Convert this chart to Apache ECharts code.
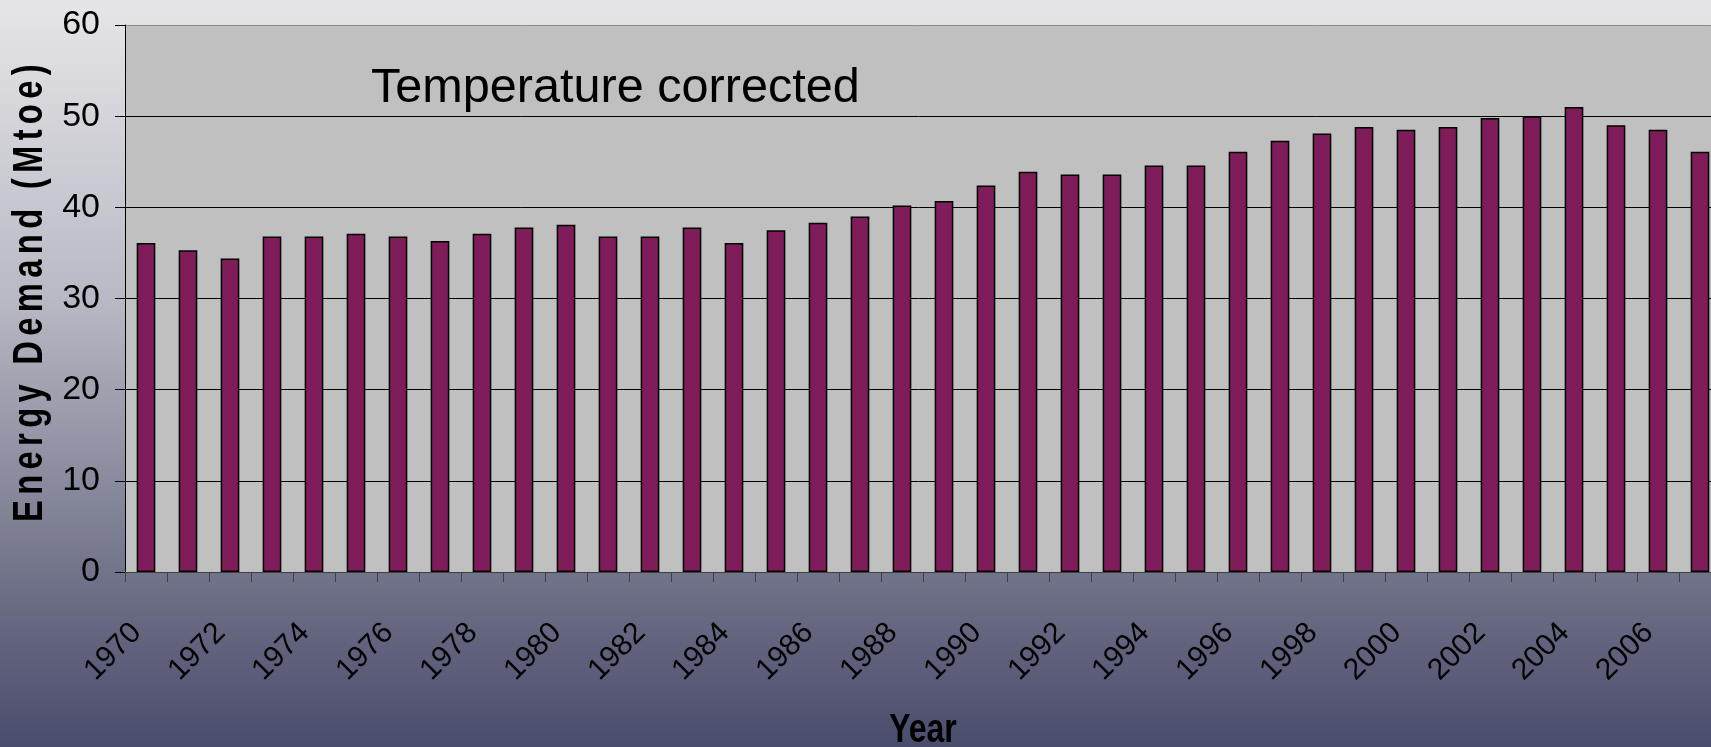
<!DOCTYPE html>
<html>
<head>
<meta charset="utf-8">
<style>
  html, body { margin: 0; padding: 0; width: 1711px; height: 747px; overflow: hidden; }
  #chart { width: 1711px; height: 747px; }
</style>
<script src="https://cdn.jsdelivr.net/npm/echarts@6/dist/echarts.min.js"></script>
</head>
<body>
<div id="chart"></div>
<script>
const years = ['1970','1971','1972','1973','1974','1975','1976','1977','1978','1979',
  '1980','1981','1982','1983','1984','1985','1986','1987','1988','1989',
  '1990','1991','1992','1993','1994','1995','1996','1997','1998','1999',
  '2000','2001','2002','2003','2004','2005','2006','2007'];
const demand = [36.1, 35.3, 34.4, 36.8, 36.8, 37.1, 36.8, 36.3, 37.1, 37.8,
  38.1, 36.8, 36.8, 37.8, 36.1, 37.5, 38.3, 39.0, 40.2, 40.7,
  42.4, 43.9, 43.6, 43.6, 44.6, 44.6, 46.1, 47.3, 48.1, 48.8,
  48.5, 48.8, 49.8, 50.0, 51.0, 49.0, 48.5, 46.1];
const yTicks = [0, 10, 20, 30, 40, 50, 60];
const yName = 'Energy Demand (Mtoe)';
const xName = 'Year';
const note = 'Temperature corrected';

// condensed bold look for the axis titles (no narrow font installed)
const SPECIAL = {};
SPECIAL[yName] = { sx: 0.78, ls: '6.8px' };
SPECIAL[xName] = { sx: 0.8, ls: '0px' };
const _fill = CanvasRenderingContext2D.prototype.fillText;
CanvasRenderingContext2D.prototype.fillText = function (t, x, y, mw) {
  const sp = SPECIAL[t];
  if (sp) {
    this.save();
    this.translate(x, y);
    this.scale(sp.sx, 1);
    if ('letterSpacing' in this) this.letterSpacing = sp.ls;
    _fill.call(this, t, 0, 0);
    this.restore();
    return;
  }
  return mw === undefined ? _fill.call(this, t, x, y) : _fill.call(this, t, x, y, mw);
};

const FONT = "'Liberation Sans', Arial, sans-serif";

const chart = echarts.init(document.getElementById('chart'), null, { renderer: 'canvas' });
chart.setOption({
  animation: false,
  backgroundColor: {
    type: 'linear', x: 0, y: 0, x2: 0, y2: 1,
    colorStops: [
      { offset: 0, color: '#e6e6e8' },
      { offset: 0.4, color: '#b8b9c4' },
      { offset: 0.78, color: '#6f7188' },
      { offset: 1, color: '#4a4c6c' }
    ]
  },
  title: {
    text: note,
    left: 371,
    top: 64,
    padding: 0,
    textStyle: { fontFamily: FONT, fontSize: 48.6, fontWeight: 'normal', color: '#000' }
  },
  grid: {
    left: 125, top: 25, width: 1596, height: 547,
    show: true, backgroundColor: '#c0c0c0', borderWidth: 0,
    containLabel: false, outerBoundsMode: 'none'
  },
  xAxis: {
    type: 'category',
    data: years,
    boundaryGap: true,
    name: xName,
    nameLocation: 'middle',
    nameGap: 139,
    nameTextStyle: { fontFamily: FONT, fontSize: 40, fontWeight: 'bold', color: '#000' },
    axisLine: { show: true, lineStyle: { color: '#404040', width: 1 } },
    axisTick: { show: true, interval: 0, length: 10, lineStyle: { color: '#404040', width: 1 } },
    axisLabel: {
      interval: 1, rotate: 45, margin: 47, padding: [0, 13, 0, 0],
      fontFamily: FONT, fontSize: 30, color: '#000'
    },
    splitLine: { show: false }
  },
  yAxis: {
    type: 'value',
    min: 0, max: 60, interval: 10,
    name: yName,
    nameLocation: 'middle',
    nameGap: 65,
    nameTextStyle: { fontFamily: FONT, fontSize: 42, fontWeight: 'bold', color: '#000', padding: [0, 0, 0, 16] },
    axisLine: { show: true, lineStyle: { color: '#000', width: 1 } },
    axisTick: { show: true, length: 10, lineStyle: { color: '#000', width: 1 } },
    axisLabel: {
      margin: 25, fontFamily: FONT, fontSize: 34, color: '#000',
      formatter: function (v) { return yTicks.indexOf(v) >= 0 ? String(v) : ''; }
    },
    splitLine: {
      show: true,
      lineStyle: { color: ['#000', '#000', '#000', '#000', '#000', '#000', '#8a8a8a'], width: 1 }
    }
  },
  series: [{
    type: 'bar',
    data: demand,
    barWidth: '44.4%',
    itemStyle: { color: '#7f1d5b', borderColor: '#000', borderWidth: 1.5 },
    emphasis: { disabled: true }
  }]
});
</script>
</body>
</html>
